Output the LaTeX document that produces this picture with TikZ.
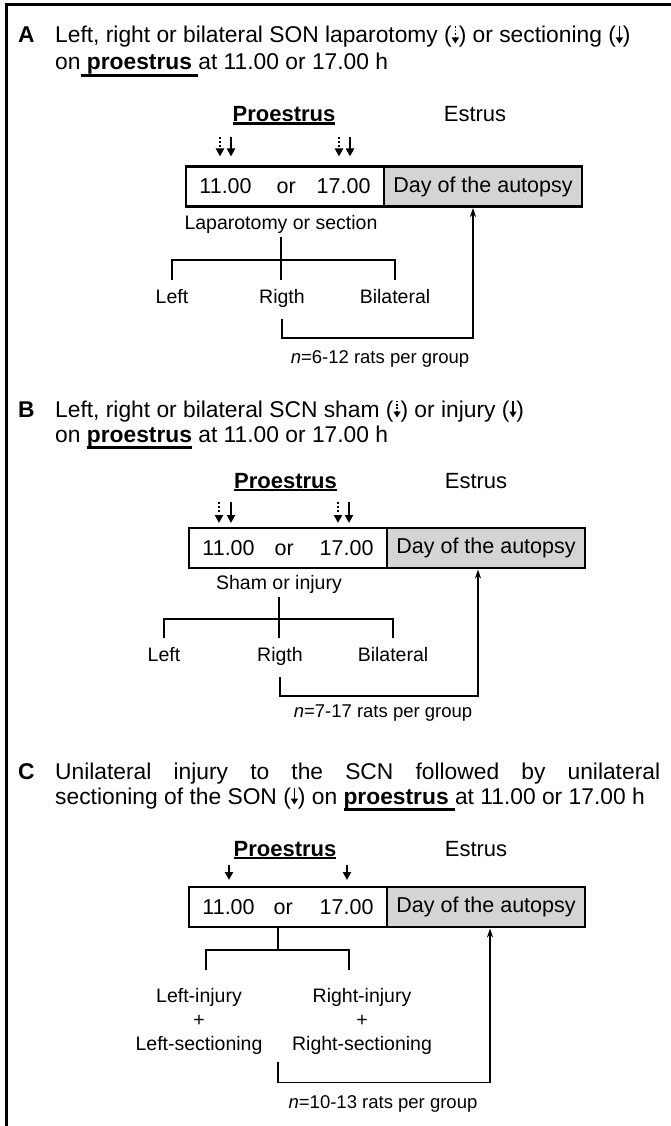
\documentclass[tikz,border=0pt]{standalone}
\usepackage{fontspec}
\setmainfont{Liberation Sans}
\usetikzlibrary{arrows.meta,positioning}
\definecolor{boxgray}{RGB}{212,212,212}

\newsavebox{\ulbox}
\newcommand{\undl}[2][4pt]{\sbox{\ulbox}{#2}\rlap{\vrule height -#1 depth \dimexpr#1+2.8pt\relax width \wd\ulbox}\usebox{\ulbox}}
\newcommand{\dotdn}{\tikz[baseline=0pt]\draw[line width=1.5pt,dash pattern=on 1.6pt off 1.8pt,-{Triangle[length=6pt,width=7pt]}] (0pt,16.5pt) -- (0pt,-0.5pt);}
\newcommand{\soldn}{\tikz[baseline=0pt]\draw[line width=1.5pt,-{Triangle[length=6pt,width=7pt]}] (0pt,16.5pt) -- (0pt,-0.5pt);}

\begin{document}
\begin{tikzpicture}[x=1pt,y=-1pt,
      hdr/.style={anchor=base west, inner sep=0pt, font=\fontsize{22.8}{27}\selectfont},
      tag/.style={hdr, font=\bfseries\fontsize{22.8}{27}\selectfont},
      phase/.style={anchor=base, inner sep=0pt, font=\fontsize{22}{26}\selectfont},
      timebox/.style={draw, line width=2.5pt, minimum width=198pt, minimum height=40pt, inner sep=0pt, outer sep=0pt, font=\fontsize{21.5}{26}\selectfont},
      daybox/.style={timebox, fill=boxgray},
      lbl/.style={font=\fontsize{19.5}{24}\selectfont, text height=14pt, text depth=4pt, inner sep=4pt},
      grp/.style={font=\fontsize{19.5}{24}\selectfont, align=center, inner sep=4pt},
      nlbl/.style={font=\fontsize{18.5}{22}\selectfont},
      link/.style={line width=1.5pt},
      up/.style={link, -{Stealth[length=9pt,width=6pt]}},
      cutarr/.style={line width=2pt, -{Triangle[length=8pt,width=8pt]}},
      shamarr/.style={cutarr, dash pattern=on 2pt off 2.2pt}
    ]
      \useasboundingbox (0,0) rectangle (671,1126);
      \draw[line width=3pt] (6,1126) -- (6,5) -- (671,5);

      % A
      \node[tag] (Atag) at (18,43) {A};
      \node[hdr] (Ahd1) at (55,43) {Left, right or bilateral SON laparotomy (\dotdn) or sectioning (\soldn)};
      \node[hdr] (Ahd2) at (55,70) {on\undl{\ \textbf{proestrus}\ }at 11.00 or 17.00 h};
      \node[phase] (Apro) at (284,122) {\undl[0.5pt]{\textbf{Proestrus}}};
      \node[phase] (Aest) at (475,122) {Estrus};
      \node[timebox] (Atime) at (285,186.5) {11.00\hspace{25pt}or\hspace{21pt}17.00};
      \node[daybox, right=0pt of Atime] (Aday) {Day of the autopsy};
      \coordinate (Aa1) at (220,137);
      \coordinate (Aa2) at (231,137);
      \coordinate (Aa3) at (339,137);
      \coordinate (Aa4) at (350,137);
      \draw[shamarr, shorten >=10pt] (Aa1) -- (Aa1 |- Atime.north);
      \draw[cutarr, shorten >=10pt] (Aa2) -- (Aa2 |- Atime.north);
      \draw[shamarr, shorten >=10pt] (Aa3) -- (Aa3 |- Atime.north);
      \draw[cutarr, shorten >=10pt] (Aa4) -- (Aa4 |- Atime.north);
      \node[lbl] (Aop) at (281,224) {Laparotomy or section};
      \node[lbl] (Aleft) at (172,298) {Left};
      \node[lbl] (Argt) at (282,298) {Rigth};
      \node[lbl] (Abil) at (395,298) {Bilateral};
      \coordinate (Ajoin) at (283,260);
      \draw[link, shorten >=5pt] (Aop.south) -- (Aop.south |- Argt.north);
      \draw[link, shorten <=5pt, shorten >=5pt] (Aleft.north) |- (Ajoin) -| (Abil.north);
      \draw[up, shorten <=8pt, shorten >=1.5pt] (Argt.south) -- ++(0,27) -| ([xshift=-10pt]Aday.south);
      \node[nlbl] (An) at (380,359) {\textit{n}=6-12 rats per group};

      % B
      \node[tag] (Btag) at (18,417) {B};
      \node[hdr] (Bhd1) at (55,417) {Left, right or bilateral SCN sham (\dotdn) or injury (\soldn)};
      \node[hdr] (Bhd2) at (55,442) {on \undl{\textbf{proestrus}} at 11.00 or 17.00 h};
      \node[phase] (Bpro) at (285.5,488) {\undl[0.5pt]{\textbf{Proestrus}}};
      \node[phase] (Best) at (476,488) {Estrus};
      \node[timebox] (Btime) at (288,548) {11.00\hspace{20pt}or\hspace{26pt}17.00};
      \node[daybox, right=0pt of Btime] (Bday) {Day of the autopsy};
      \coordinate (Ba1) at (219,502);
      \coordinate (Ba2) at (231,502);
      \coordinate (Ba3) at (338,502);
      \coordinate (Ba4) at (349,502);
      \draw[shamarr, shorten >=5pt] (Ba1) -- (Ba1 |- Btime.north);
      \draw[cutarr, shorten >=5pt] (Ba2) -- (Ba2 |- Btime.north);
      \draw[shamarr, shorten >=5pt] (Ba3) -- (Ba3 |- Btime.north);
      \draw[cutarr, shorten >=5pt] (Ba4) -- (Ba4 |- Btime.north);
      \node[lbl] (Bop) at (279,584) {Sham or injury};
      \node[lbl] (Bleft) at (164,656) {Left};
      \node[lbl] (Brgt) at (280,656) {Rigth};
      \node[lbl] (Bbil) at (393,656) {Bilateral};
      \coordinate (Bjoin) at (279,619);
      \draw[link, shorten >=5pt] (Bop.south) -- (Bop.south |- Brgt.north);
      \draw[link, shorten <=5pt, shorten >=5pt] (Bleft.north) |- (Bjoin) -| (Bbil.north);
      \draw[up, shorten <=8pt, shorten >=1.5pt] (Brgt.south) -- ++(0,27) -| ([xshift=-8pt]Bday.south);
      \node[nlbl] (Bn) at (383,713) {\textit{n}=7-17 rats per group};

      % C
      \node[tag] (Ctag) at (18,779) {C};
      \node[hdr] (Chd1) at (55,779) {\makebox[605pt][s]{Unilateral injury to the SCN followed by unilateral}};
      \node[hdr] (Chd2) at (55,804) {sectioning of the SON (\soldn) on \undl{\textbf{proestrus}\ }at 11.00 or 17.00 h};
      \node[phase] (Cpro) at (285,856) {\undl[0.5pt]{\textbf{Proestrus}}};
      \node[phase] (Cest) at (476,856) {Estrus};
      \node[timebox] (Ctime) at (288,907) {11.00\hspace{19pt}or\hspace{27pt}17.00};
      \node[daybox, right=0pt of Ctime] (Cday) {Day of the autopsy};
      \coordinate (Ca1) at (229,865);
      \coordinate (Ca2) at (347,865);
      \draw[cutarr, shorten >=7pt] (Ca1) -- (Ca1 |- Ctime.north);
      \draw[cutarr, shorten >=7pt] (Ca2) -- (Ca2 |- Ctime.north);
      \node[grp] (Cl) at (199,1021) {Left-injury\\+\\Left-sectioning};
      \node[grp] (Cr) at (362,1021) {Right-injury\\+\\Right-sectioning};
      \coordinate (Cjoin) at (278,950);
      \draw[link] (Ctime.south -| Cjoin) -- (Cjoin);
      \draw[link, shorten <=14pt, shorten >=14pt] ([xshift=7pt]Cl.north) |- (Cjoin) -| ([xshift=-13pt]Cr.north);
      \draw[up, shorten <=4pt, shorten >=1.5pt] (Cjoin |- Cl.south) -- ++(0,24) -| ([xshift=4pt]Cday.south);
      \node[nlbl] (Cn) at (383,1104) {\textit{n}=10-13 rats per group};
    \end{tikzpicture}
\end{document}
